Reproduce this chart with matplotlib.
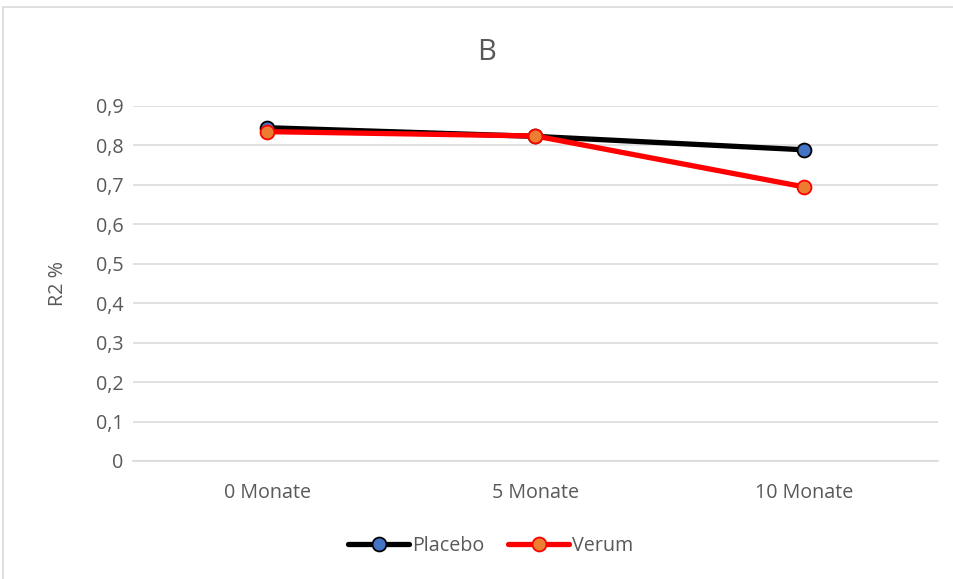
import matplotlib
matplotlib.use("Agg")
import matplotlib.pyplot as plt
from matplotlib.patches import Rectangle
from matplotlib.ticker import FixedLocator, FuncFormatter

categories = ["0 Monate", "5 Monate", "10 Monate"]
placebo = [0.845, 0.823, 0.789]
verum = [0.835, 0.824, 0.695]
yticks = [0, 0.1, 0.2, 0.3, 0.4, 0.5, 0.6, 0.7, 0.8, 0.9]

plt.rcParams['font.family'] = ['Open Sans', 'DejaVu Sans']

fig = plt.figure(figsize=(9.54, 5.79), dpi=100)
ax = fig.add_axes([133/954, 1-461/579, (938-133)/954, (461-106)/579])

fig.patches.append(Rectangle((3/954, -0.01), 1.0, 1-7/579+0.01, transform=fig.transFigure,
                             fill=False, edgecolor='#d9d9d9', linewidth=1.2))

x = list(range(len(categories)))
ax.plot(x, placebo, color='black', lw=3.8, marker='o', markersize=10,
        markerfacecolor='#4472c4', markeredgecolor='black', markeredgewidth=1.3,
        label='Placebo', solid_capstyle='round', zorder=3)
ax.plot(x, verum, color='#ff0000', lw=3.8, marker='o', markersize=10,
        markerfacecolor='#ed7d31', markeredgecolor='#ff0000', markeredgewidth=1.3,
        label='Verum', solid_capstyle='round', zorder=4)

ax.set_xlim(-0.5, 2.5)
ax.set_ylim(0, 0.9)
ax.yaxis.set_major_locator(FixedLocator(yticks))
ax.yaxis.set_major_formatter(FuncFormatter(lambda v, p: ('%g' % round(v, 1)).replace('.', ',')))
ax.set_xticks(x)
ax.set_xticklabels(categories)
ax.tick_params(axis='both', length=0, labelsize=14.2, colors='#595959', pad=7)
ax.tick_params(axis='x', pad=16)
ax.grid(axis='y', color='#d9d9d9', lw=1.1)
ax.set_axisbelow(True)
for s in ['top', 'right', 'left']:
    ax.spines[s].set_visible(False)
ax.spines['bottom'].set_color('#d9d9d9')
ax.spines['bottom'].set_linewidth(1.1)

ax.set_ylabel('R2 %', fontsize=14.2, color='#595959', labelpad=20)
fig.text(487/954, 1-53/579, 'B', ha='center', va='center', fontsize=21, color='#595959')

fig.legend(loc='center', bbox_to_anchor=(491/954, 1-546/579), ncol=2, frameon=False,
           fontsize=14.2, labelcolor='#595959', handlelength=3.1, handletextpad=0.15,
           columnspacing=1.2)

fig.savefig('out.png', dpi=100)
